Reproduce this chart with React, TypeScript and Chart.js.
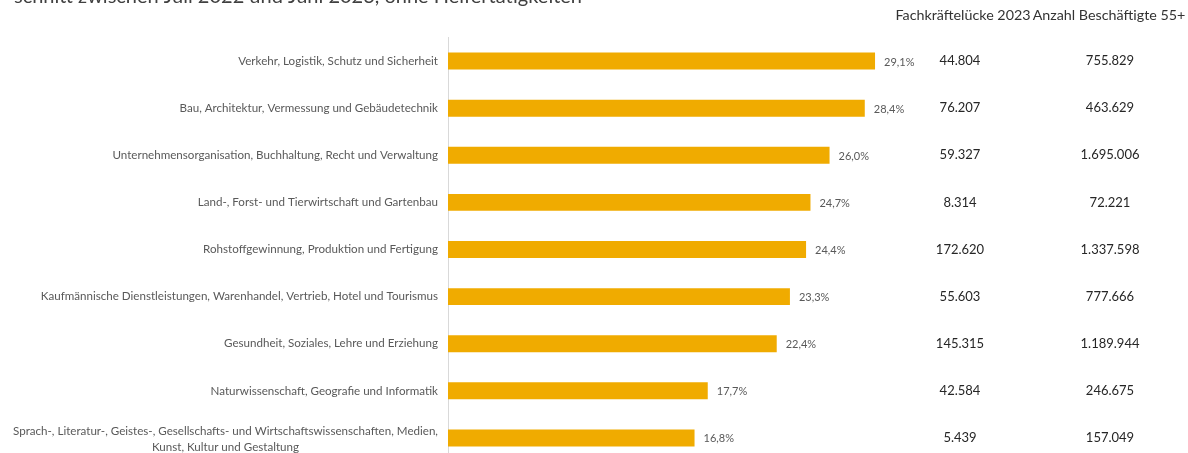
import React, { useEffect, useRef } from "react";
import { Chart, registerables } from "chart.js";

Chart.register(...registerables);

const titleText = "schnitt zwischen Juli 2022 und Juni 2023, ohne Helfertätigkeiten";
const headerGap = "Fachkräftelücke 2023";
const headerWorkers = "Anzahl Beschäftigte 55+";

const categories: (string | string[])[] = [
  "Verkehr, Logistik, Schutz und Sicherheit",
  "Bau, Architektur, Vermessung und Gebäudetechnik",
  "Unternehmensorganisation, Buchhaltung, Recht und Verwaltung",
  "Land-, Forst- und Tierwirtschaft und Gartenbau",
  "Rohstoffgewinnung, Produktion und Fertigung",
  "Kaufmännische Dienstleistungen, Warenhandel, Vertrieb, Hotel und Tourismus",
  "Gesundheit, Soziales, Lehre und Erziehung",
  "Naturwissenschaft, Geografie und Informatik",
  [
    "Sprach-, Literatur-, Geistes-, Gesellschafts- und Wirtschaftswissenschaften, Medien,",
    "Kunst, Kultur und Gestaltung",
  ],
];

const shares = [29.1, 28.4, 26.0, 24.7, 24.4, 23.3, 22.4, 17.7, 16.8];
const gap2023 = [44804, 76207, 59327, 8314, 172620, 55603, 145315, 42584, 5439];
const workers55 = [755829, 463629, 1695006, 72221, 1337598, 777666, 1189944, 246675, 157049];

const fmtInt = (n: number) => String(n).replace(/\B(?=(\d{3})+(?!\d))/g, ".");
const fmtPct = (v: number) => v.toFixed(1).replace(".", ",") + "%";

const FONT = "Lato, 'Open Sans', sans-serif";

const overlayPlugin = {
  id: "overlay",
  afterDraw(chart: any) {
    const ctx = chart.ctx as CanvasRenderingContext2D;
    const yScale = chart.scales.y;
    const meta = chart.getDatasetMeta(0);
    ctx.save();

    // cut-off title at the very top
    ctx.fillStyle = "#404040";
    ctx.font = `20px ${FONT}`;
    ctx.textAlign = "left";
    ctx.textBaseline = "alphabetic";
    ctx.fillText(titleText, 14, 3);

    // column headers
    ctx.fillStyle = "#333333";
    ctx.font = `14.3px ${FONT}`;
    ctx.textAlign = "center";
    ctx.textBaseline = "middle";
    ctx.fillText(headerGap, 963, 15);
    ctx.fillText(headerWorkers, 1109, 15);

    // category labels
    ctx.fillStyle = "#595959";
    ctx.font = `11.6px ${FONT}`;
    ctx.textBaseline = "middle";
    categories.forEach((lab, i) => {
      const y = yScale.getPixelForValue(i);
      const right = chart.chartArea.left - 10;
      if (Array.isArray(lab)) {
        const w = Math.max(...lab.map((l) => ctx.measureText(l).width));
        const cx = right - w / 2;
        ctx.textAlign = "center";
        const lh = 16;
        lab.forEach((l, k) => {
          ctx.fillText(l, cx, y + 1 + (k - (lab.length - 1) / 2) * lh);
        });
      } else {
        ctx.textAlign = "right";
        ctx.fillText(lab, right, y);
      }
    });

    // data labels + table values
    meta.data.forEach((bar: any, i: number) => {
      ctx.fillStyle = "#595959";
      ctx.font = `11px ${FONT}`;
      ctx.textAlign = "left";
      ctx.fillText(fmtPct(shares[i]), bar.x + 9, bar.y + 1);

      ctx.fillStyle = "#262626";
      ctx.font = `13px ${FONT}`;
      ctx.textAlign = "center";
      ctx.fillText(fmtInt(gap2023[i]), 960, bar.y);
      ctx.fillText(fmtInt(workers55[i]), 1110, bar.y);
    });

    ctx.restore();
  },
};

export default function App() {
  const ref = useRef<HTMLCanvasElement | null>(null);

  useEffect(() => {
    if (!ref.current) return;
    const chart = new Chart(ref.current, {
      type: "bar",
      data: {
        labels: categories as any,
        datasets: [
          {
            data: shares,
            backgroundColor: "#F0AB00",
            borderWidth: 0,
            barPercentage: 0.36,
            categoryPercentage: 1,
          },
        ],
      },
      options: {
        indexAxis: "y",
        responsive: false,
        animation: false,
        devicePixelRatio: 1,
        layout: { padding: { left: 448, right: 153, top: 37.5, bottom: 8.5 } },
        plugins: {
          legend: { display: false },
          tooltip: { enabled: false },
          title: { display: false },
        },
        scales: {
          x: { display: false, min: 0, max: 40 },
          y: {
            display: true,
            ticks: { display: false },
            grid: { display: false },
            border: { display: true, color: "#d9d9d9", width: 1 },
            afterFit: (scale: any) => {
              scale.width = 0;
            },
          },
        },
      },
      plugins: [overlayPlugin],
    });
    return () => chart.destroy();
  }, []);

  return (
    <div
      style={{
        position: "fixed",
        left: 0,
        top: 0,
        width: 1188,
        height: 453,
        overflow: "hidden",
        background: "#ffffff",
      }}
    >
      <canvas ref={ref} width={1188} height={470} style={{ display: "block" }} />
    </div>
  );
}
